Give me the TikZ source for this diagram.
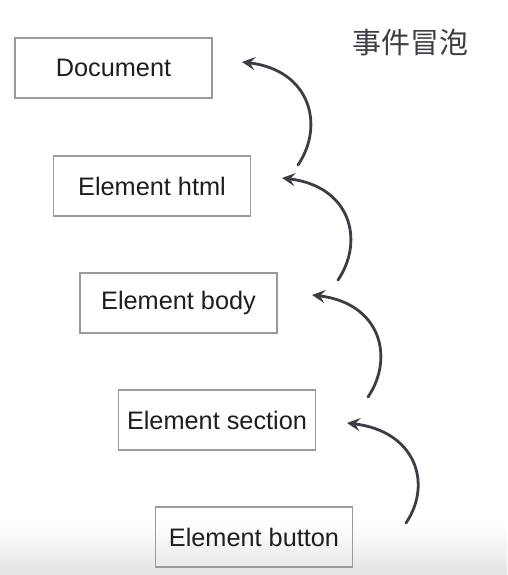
\documentclass[tikz,border=0pt]{standalone}
\usepackage{fontspec}
\setmainfont{Liberation Sans}
\newfontfamily\cjk{Noto Sans CJK SC}
\usetikzlibrary{arrows.meta,calc}
\definecolor{boxline}{HTML}{9A9A9A}
\definecolor{ink}{HTML}{3C3E46}
\definecolor{txt}{HTML}{1E1E1E}
\tikzset{
  elbox/.style={draw=boxline, line width=1.1pt, minimum width=197pt, minimum height=60pt, inner sep=0pt, text=txt, font=\fontsize{25.3}{29}\selectfont},
  bubble/.style={draw=ink, line width=2.8pt, line cap=round, -{Stealth[length=13pt,width=13pt,inset=5pt]}},
}
\begin{document}
\begin{tikzpicture}[x=1pt,y=-1pt]
\useasboundingbox (0,0) rectangle (507,575);
\fill[white] (0,0) rectangle (507,575);
\shade[top color=white, bottom color=black!11] (0,525) rectangle (507,575);
\node[elbox] (doc) at (113.5,68) {Document};
\node[elbox] (html) at (152,186) {Element html};
\node[elbox] (body) at (178.5,303) {Element body};
\node[elbox] (section) at (217,420) {Element section};
\node[elbox] (button) at (254,537) {Element button};
\node[text=ink, font=\cjk\fontsize{29}{33}\selectfont] (title) at (410,43) {事件冒泡};
% arrow end points
\coordinate (t1) at (298,165); \coordinate (p1) at (242,62);
\coordinate (t2) at (338,280); \coordinate (p2) at (282,178);
\coordinate (t3) at (368,397); \coordinate (p3) at (312,295);
\coordinate (t4) at (406,523); \coordinate (p4) at (347,423);
\draw[bubble] (t1) .. controls ($(t1)+(27,-40)$) and ($(p1)+(68,8)$) .. (p1);
\draw[bubble] (t2) .. controls ($(t2)+(27,-40)$) and ($(p2)+(68,8)$) .. (p2);
\draw[bubble] (t3) .. controls ($(t3)+(27,-40)$) and ($(p3)+(68,8)$) .. (p3);
\draw[bubble] (t4) .. controls ($(t4)+(27,-40)$) and ($(p4)+(68,8)$) .. (p4);
\end{tikzpicture}
\end{document}
